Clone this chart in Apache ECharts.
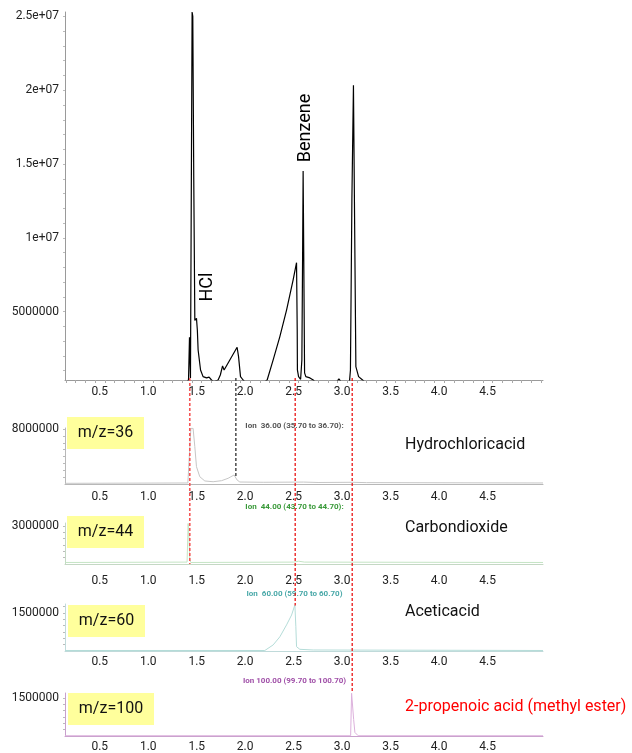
<!DOCTYPE html>
<html><head><meta charset="utf-8">
<script src="https://cdn.jsdelivr.net/npm/echarts@6/dist/echarts.min.js"></script>
<style>html,body{margin:0;padding:0;background:#fff}#c{width:632px;height:753px}</style>
</head><body><div id="c"></div>
<script>
// ---------- data (retention time in min, abundance) ----------
const ticTime = [0.09,1.336,1.364,1.374,1.384,1.393,1.401,1.408,1.418,1.429,1.446,1.455,1.463,1.488,1.514,1.550,1.576,1.601,1.625,1.669,1.692,1.715,1.731,1.790,1.865,1.880,1.900,1.927,1.955,2.120,2.175,2.237,2.306,2.375,2.443,2.478,2.485,2.487,2.499,2.520,2.533,2.541,2.546,2.552,2.561,2.574,2.616,2.650,2.678,2.884,2.915,2.946,3.023,3.034,3.049,3.065,3.075,3.090,3.118,3.159,3.193,5.02];
const ticAbund = [0,0,400000,3270000,500000,400000,25300000,25000000,14000000,4400000,4550000,3760000,2400000,1050000,600000,510000,560000,370000,250000,370000,710000,1320000,1050000,1730000,2590000,1950000,600000,370000,170000,100000,370000,1730000,3310000,5110000,7150000,8320000,3760000,1050000,600000,420000,1730000,9180000,14530000,9180000,850000,600000,510000,370000,170000,170000,440000,170000,170000,1050000,12600000,20340000,12600000,1270000,600000,370000,170000,100000];

const mz36Time = [0.09,1.357,1.388,1.411,1.429,1.446,1.480,1.532,1.618,1.704,1.772,1.834,1.852,1.865,1.893,2.134,2.55,2.70,3.05,3.20,5.02];
const mz36Abund = [100000,150000,8100000,8100000,5430000,2520000,1060000,440000,330000,480000,830000,1310000,1560000,580000,290000,250000,280000,220000,250000,200000,150000];

const mz44Time = [0.09,1.349,1.360,1.370,1.377,1.388,2.45,2.50,2.56,5.02];
const mz44Abund = [120000,150000,3200000,1900000,320000,120000,150000,220000,150000,120000];

const mz60Time = [0.09,2.151,2.237,2.306,2.375,2.427,2.461,2.471,2.478,2.512,2.650,5.02];
const mz60Abund = [20000,20000,240000,560000,1030000,1420000,1820000,960000,170000,67000,40000,20000];

const mz100Time = [0.09,3.036,3.046,3.056,3.067,3.080,3.114,5.02];
const mz100Abund = [10000,10000,1680000,1680000,650000,140000,10000,10000];

// tick labels
const xLabelValues = [0.5,1.0,1.5,2.0,2.5,3.0,3.5,4.0,4.5];
const xLabelTexts = ['0.5','1.0','1.5','2.0','2.5','3.0','3.5','4.0','4.5'];
const yLabelValues0 = [5000000,10000000,15000000,20000000,25000000];
const yLabelTexts0 = ['5000000','1e+07','1.5e+07','2e+07','2.5e+07'];
const yLabelValuesLow = [[8000000],[3000000],[1500000],[1500000]];
const yLabelTextsLow = [['8000000'],['3000000'],['1500000'],['1500000']];

const panelTags = ['m/z=36','m/z=44','m/z=60','m/z=100'];
const compoundNames = ['Hydrochloricacid','Carbondioxide','Aceticacid','2-propenoic acid (methyl ester)'];
const ionTexts = ['Ion  36.00 (35.70 to 36.70):','Ion  44.00 (43.70 to 44.70):','Ion  60.00 (59.70 to 60.70)','Ion 100.00 (99.70 to 100.70)'];
const peakNames = ['HCl','Benzene'];

// marker lines: retention time, panel where it ends, value where it ends
const markerTimes = [1.377, 1.852, 2.464, 3.052];
const markerEndPanel = [2, 1, 3, 4];
const markerEndValue = [0, 1000000, 1800000, 1690000];

// ---------- layout / style ----------
const FONT = 'Roboto';
const X_MIN = 0.09, X_MAX = 5.02;
const grids = [
  {left:65, width:478, top:12, height:368},
  {left:65, width:478, top:428, height:56},
  {left:65, width:478, top:523, height:41},
  {left:65, width:478, top:604, height:47},
  {left:65, width:478, top:693, height:45}
];
const yMin = [370000, 0, 0, 0, 0];
const yMax = [25300000, 8150000, 3240000, 1855000, 1690000];
const lineColors = ['#000000','#c6c6c6','#c4e4c4','#b4dcd8','#dcb0dc'];
const axisColors = ['#9a9a9a','#b8b8b8','#c4d8c4','#c0dada','#c8a0cc'];
const labelMargins = [6, 7, 11, 5, 5];
const yMinorStep = [1000000, 1000000, 500000, 250000, 250000];

const xTicks = [];
for (let k = 1; k <= 50; k++) xTicks.push(+(k/10).toFixed(1));

function zip(a, b){ return a.map((v,i)=>[v, b[i]]); }
const seriesData = [
  zip(ticTime, ticAbund), zip(mz36Time, mz36Abund), zip(mz44Time, mz44Abund),
  zip(mz60Time, mz60Abund), zip(mz100Time, mz100Abund)
];

const xAxes = grids.map((g,i)=>({
  type:'value', gridIndex:i, min:X_MIN, max:X_MAX,
  axisLine:{show:true, onZero:false, lineStyle:{color:axisColors[i], width:1}},
  axisTick:{show:i===0, customValues:xTicks, length:3, lineStyle:{color:'#aaa'}},
  minorTick:{show:false},
  splitLine:{show:false},
  axisLabel:{
    customValues:xLabelValues,
    formatter:(v)=>{ const k = xLabelValues.findIndex(x=>Math.abs(x-v)<1e-6); return k>=0?xLabelTexts[k]:''; },
    fontFamily:FONT, fontSize:12, color:'#222', margin:labelMargins[i], padding:[0,10,0,0]
  }
}));

const yAxes = grids.map((g,i)=>{
  const labVals = i===0 ? yLabelValues0 : yLabelValuesLow[i-1];
  const labTxt = i===0 ? yLabelTexts0 : yLabelTextsLow[i-1];
  const minor = [];
  for (let v = yMinorStep[i]; v <= yMax[i]; v += yMinorStep[i]) minor.push(v);
  return {
    type:'value', gridIndex:i, min:yMin[i], max:yMax[i],
    axisLine:{show:true, onZero:false, lineStyle:{color:axisColors[i], width:1}},
    axisTick:{show:true, customValues:minor, length:2, lineStyle:{color:'#bbb'}},
    splitLine:{show:false},
    axisLabel:{
      customValues:labVals,
      formatter:(v)=>{ const k = labVals.findIndex(x=>Math.abs(x-v)<1); return k>=0?labTxt[k]:''; },
      fontFamily:FONT, fontSize:12, color:'#222', margin:6
    }
  };
});

const series = seriesData.map((d,i)=>({
  type:'line', xAxisIndex:i, yAxisIndex:i, data:d, showSymbol:false, symbol:'none',
  lineStyle:{color:lineColors[i], width: i===0?1.2:1}, clip:true, z: i===0?3:2
}));

const chart = echarts.init(document.getElementById('c'), null, {renderer:'canvas'});
chart.setOption({animation:false, backgroundColor:'#fff', grid:grids, xAxis:xAxes, yAxis:yAxes, series:series});

// ---------- annotations ----------
const graphics = [];
// dashed marker lines spanning panels
const markerColors = ['#f55555','#555555','#e80000','#e80000'];
const markerWidths = [1.6, 1.6, 1.2, 1.2];
markerTimes.forEach((t,k)=>{
  const p0 = chart.convertToPixel({xAxisIndex:0, yAxisIndex:0}, [t, yMin[0]]);
  const e = markerEndPanel[k];
  const p1 = chart.convertToPixel({xAxisIndex:e, yAxisIndex:e}, [t, markerEndValue[k]]);
  graphics.push({type:'line', z:100, shape:{x1:p0[0], y1:p0[1]-2, x2:p0[0], y2:p1[1]},
    style:{stroke:markerColors[k], lineWidth:markerWidths[k], lineDash:[3,2]}});
});
// peak names (rotated)
const peakPos = [[207,287],[305,128]];
peakNames.forEach((n,k)=>{
  graphics.push({type:'text', x:peakPos[k][0], y:peakPos[k][1], rotation:Math.PI/2, z:50,
    style:{text:n, font:'18px '+FONT, fill:'#000', align:'center', verticalAlign:'middle'}});
});
// yellow tag boxes
const boxRects = [[67,417,77,32],[67,516,77,32],[68,605,77,32],[68,693,86,32]];
panelTags.forEach((t,k)=>{
  const r = boxRects[k];
  graphics.push({type:'rect', z:40, shape:{x:r[0], y:r[1], width:r[2], height:r[3]}, style:{fill:'#ffff9c'}});
  graphics.push({type:'text', z:41, x:r[0]+r[2]/2, y:r[1]+r[3]/2,
    style:{text:t, font:'16px '+FONT, fill:'#111', align:'center', verticalAlign:'middle'}});
});
// compound names
const nameY = [445, 528, 612, 707];
const nameColors = ['#111','#111','#111','#ff0000'];
compoundNames.forEach((n,k)=>{
  graphics.push({type:'text', z:41, x:405, y:nameY[k],
    style:{text:n, font:'16px '+FONT, fill:nameColors[k], align:'left', verticalAlign:'middle'}});
});
// ion texts
const ionY = [426, 507, 594, 681];
const ionColors = ['#555555','#3a9a3a','#48a8a8','#a050a8'];
ionTexts.forEach((n,k)=>{
  graphics.push({type:'text', z:41, x:294.5, y:ionY[k],
    style:{text:n, font:'bold 8px '+FONT, fill:ionColors[k], align:'center', verticalAlign:'middle'}});
});

chart.setOption({graphic:graphics});
</script>
</body></html>
